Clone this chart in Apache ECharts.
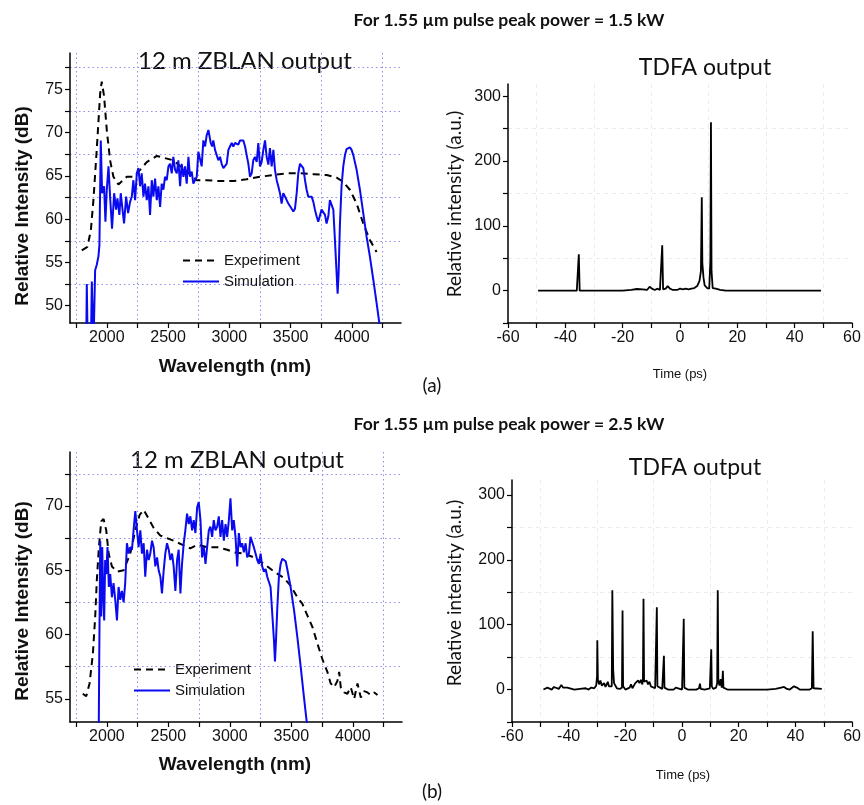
<!DOCTYPE html>
<html><head><meta charset="utf-8">
<script src="https://cdn.jsdelivr.net/npm/echarts@6/dist/echarts.min.js"></script>
<style>html,body{margin:0;padding:0;background:#fff}#c{width:864px;height:805px}</style>
</head><body><div id="c"></div>
<script>
// ---------- DATA ----------
// (a) 1.5 kW : 12 m ZBLAN output, wavelength (nm) vs relative intensity (dB)
const expA = [[1796,56.4],[1842,56.8],[1870,58.7],[1891,62.2],[1918,68.0],[1946,74.5],[1959,75.9],[1978,74.2],[2000,70.3],[2027,66.8],[2054,64.9],[2095,64.0],[2163,64.9],[2217,64.9],[2272,65.7],[2326,66.6],[2408,67.3],[2462,67.1],[2543,66.8],[2652,65.5],[2734,64.5],[2815,64.5],[2924,64.4],[3033,64.4],[3141,64.6],[3250,64.9],[3359,65.1],[3467,65.3],[3576,65.3],[3685,65.2],[3793,65.1],[3875,64.8],[3929,64.3],[3983,63.4],[4038,61.8],[4092,59.5],[4146,57.6],[4201,56.2]];
const simA = [[1832,45],[1837,52.5],[1845,45],[1870,45],[1878,52.8],[1891,45],[1905,54.1],[1918,54.7],[1932,55.7],[1940,57.0],[1951,69.1],[1962,63.0],[1978,63.8],[1989,59.7],[2000,63.4],[2014,66.1],[2027,62.6],[2043,58.9],[2060,63.0],[2076,61.1],[2087,62.4],[2103,60.5],[2114,63.0],[2130,60.9],[2141,59.5],[2158,62.6],[2174,60.7],[2190,62.0],[2204,62.6],[2217,64.5],[2231,62.2],[2245,65.3],[2258,65.9],[2272,63.8],[2285,65.3],[2299,62.6],[2312,64.1],[2326,62.2],[2340,63.8],[2353,60.5],[2367,64.5],[2380,62.6],[2394,64.7],[2408,62.2],[2421,63.8],[2435,61.4],[2448,64.1],[2462,63.4],[2475,64.9],[2489,64.5],[2503,66.1],[2516,66.4],[2530,65.3],[2543,67.2],[2557,65.7],[2571,65.3],[2584,66.8],[2598,63.8],[2611,66.4],[2625,64.9],[2638,66.1],[2652,64.1],[2666,67.2],[2679,64.9],[2693,65.5],[2706,64.1],[2720,64.3],[2734,64.9],[2747,67.8],[2761,68.0],[2774,66.1],[2788,69.1],[2802,68.4],[2815,69.7],[2829,70.3],[2837,70.5],[2848,68.8],[2859,68.4],[2869,69.1],[2883,68.0],[2897,68.0],[2910,66.8],[2924,67.2],[2937,66.4],[2951,65.9],[2965,66.1],[2978,66.4],[2992,68.0],[3005,68.4],[3019,68.8],[3032,68.4],[3046,68.8],[3060,69.0],[3073,68.6],[3087,69.1],[3100,69.3],[3114,69.1],[3128,68.4],[3141,67.4],[3155,66.4],[3168,64.9],[3182,65.3],[3195,66.8],[3209,67.2],[3223,66.6],[3236,68.8],[3250,66.1],[3263,66.6],[3277,68.0],[3291,69.1],[3304,67.2],[3318,66.3],[3331,68.2],[3345,66.1],[3359,68.0],[3372,65.7],[3386,64.5],[3399,63.8],[3413,63.0],[3426,61.8],[3440,63.0],[3454,62.6],[3467,62.6],[3481,61.8],[3494,61.6],[3508,61.2],[3522,60.9],[3535,61.2],[3549,63.0],[3562,65.3],[3576,66.4],[3589,66.4],[3603,65.9],[3617,64.5],[3630,63.4],[3644,62.6],[3657,62.8],[3671,62.6],[3685,62.0],[3698,61.1],[3712,60.3],[3725,59.7],[3739,59.9],[3752,61.1],[3766,61.2],[3780,60.5],[3793,59.5],[3807,60.3],[3820,62.2],[3834,62.4],[3848,61.1],[3861,57.6],[3875,53.7],[3883,51.4],[3891,53.7],[3902,59.5],[3915,63.8],[3929,66.1],[3943,67.4],[3956,68.1],[3970,68.3],[3983,68.3],[3997,68.0],[4011,67.4],[4038,65.7],[4065,63.4],[4092,60.7],[4119,58.0],[4146,55.7],[4174,53.0],[4201,50.3],[4228,47.5]];
// (a) TDFA output, time (ps) vs relative intensity (a.u.)
const tdfaA = [[-49.5,0],[-36,0],[-35.5,0],[-35.3,56],[-35.0,0],[-20,0],[-17,1],[-15,2.5],[-13,2],[-11.5,1],[-10.6,6],[-9.8,3],[-8.8,1],[-7.8,3],[-7,1],[-6.4,2],[-6.2,70],[-5.9,2],[-5,3],[-4.3,7],[-3.5,3],[-2.5,1],[-1,1],[0,3],[1,2],[2,3],[3,2],[4,3],[5,4],[6,7],[6.8,15],[7.3,30],[7.6,144],[7.8,42],[8.2,20],[8.6,8],[9.5,4],[10.2,3],[10.6,47],[10.8,260],[11.0,30],[11.4,4],[12.5,3],[14,1],[16,0],[20,0],[49.2,0]];
// (b) 2.5 kW : 12 m ZBLAN output
const expB = [[1804,55.4],[1832,55.2],[1859,56.2],[1886,58.5],[1905,61.4],[1918,64.2],[1935,66.8],[1954,68.8],[1973,69.0],[1995,68.1],[2014,66.3],[2041,65.3],[2082,64.9],[2136,65.0],[2190,66.3],[2231,68.1],[2266,69.3],[2299,69.7],[2340,69.0],[2380,68.3],[2435,67.7],[2489,67.5],[2543,67.3],[2611,67.0],[2679,66.7],[2734,67.0],[2815,66.8],[2897,66.8],[2978,66.6],[3032,66.4],[3114,66.3],[3195,66.0],[3277,65.5],[3359,64.9],[3440,64.4],[3494,63.8],[3549,62.9],[3589,62.4],[3630,61.5],[3671,60.6],[3712,59.3],[3752,58.1],[3793,57.1],[3820,56.2],[3848,55.9],[3875,56.4],[3889,57.1],[3902,55.9],[3929,55.5],[3956,55.4],[3983,55.9],[4011,55.0],[4038,56.2],[4065,55.1],[4092,55.6],[4119,55.5],[4146,55.3],[4174,55.5],[4201,55.3]];
const simB = [[1932,50],[1938,58.5],[1946,67.3],[1954,61.4],[1962,66.8],[1970,63.2],[1978,61.1],[1986,65.8],[1995,64.7],[2005,66.8],[2016,63.7],[2027,64.7],[2041,62.9],[2054,64.0],[2068,62.7],[2082,61.1],[2095,63.7],[2109,62.7],[2122,63.4],[2136,62.5],[2149,64.0],[2163,67.1],[2177,66.3],[2190,66.8],[2204,66.6],[2217,68.1],[2231,69.6],[2245,68.1],[2258,66.8],[2272,68.1],[2285,66.3],[2299,67.1],[2312,64.5],[2326,66.6],[2340,65.8],[2353,66.3],[2367,67.3],[2380,66.8],[2394,65.3],[2408,66.0],[2421,65.0],[2435,64.5],[2448,63.2],[2462,65.0],[2475,66.3],[2489,67.1],[2503,66.6],[2516,65.8],[2530,66.3],[2543,65.3],[2557,63.4],[2571,65.8],[2584,66.6],[2598,63.2],[2611,65.5],[2625,67.1],[2638,68.1],[2652,69.4],[2666,68.6],[2679,69.2],[2693,68.1],[2706,68.9],[2720,67.9],[2734,69.9],[2747,70.3],[2761,68.9],[2774,66.0],[2788,66.8],[2802,65.5],[2815,66.8],[2829,68.1],[2842,68.4],[2856,67.6],[2869,68.9],[2883,68.1],[2897,68.4],[2910,69.2],[2924,67.6],[2937,68.9],[2951,67.3],[2965,68.6],[2978,67.6],[2992,68.9],[3005,70.6],[3019,68.1],[3032,68.9],[3046,67.6],[3060,65.3],[3073,67.9],[3087,66.8],[3100,67.1],[3114,66.4],[3128,67.1],[3141,66.0],[3155,66.3],[3168,67.6],[3182,67.5],[3195,66.8],[3209,66.3],[3223,65.8],[3236,65.5],[3250,66.3],[3263,65.3],[3277,64.9],[3291,65.1],[3304,64.5],[3318,64.4],[3331,63.7],[3345,61.6],[3359,59.5],[3367,57.9],[3375,59.5],[3386,62.1],[3399,64.5],[3413,65.5],[3426,65.9],[3440,65.9],[3454,65.7],[3467,65.1],[3494,63.7],[3522,61.9],[3549,59.8],[3576,57.5],[3603,55.1],[3630,52.8]];
// (b) TDFA output
const tdfaB = [[-48.9,0],[-47.5,3],[-47,1],[-46,0],[-45.2,4],[-44.5,1],[-43.5,1],[-42.6,7],[-42,3],[-41.3,5],[-40.5,3],[-40,1],[-38,0],[-36,1],[-34,2],[-33,0],[-32,3],[-31,2],[-30.3,6],[-30.0,20],[-29.9,76],[-29.7,15],[-29.3,8],[-28.8,14],[-28.3,6],[-27.5,10],[-27,4],[-26.2,12],[-25.8,5],[-24.8,5],[-24.6,153],[-24.3,30],[-24.0,10],[-23,2],[-22,1],[-21.2,3],[-21.0,122],[-20.8,5],[-20,0],[-18.5,3],[-18,8],[-17.5,2],[-17,6],[-16.5,10],[-16,8],[-15.5,14],[-15,10],[-14.5,15],[-14,8],[-13.8,16],[-13.6,140],[-13.4,12],[-13,10],[-12.5,14],[-12,8],[-11.5,12],[-11,5],[-10.5,3],[-9.5,2],[-9.1,5],[-8.9,127],[-8.7,5],[-8,2],[-7,1],[-6.6,3],[-6.4,52],[-6.2,3],[-5,0],[-3,0],[-2.2,3],[-1.5,1],[0,0],[0.4,3],[0.6,109],[0.8,3],[2,0],[5,0],[6.0,2],[6.3,9],[6.6,1],[8,0],[9.8,2],[10.1,5],[10.3,62],[10.5,5],[11,1],[12,3],[12.4,10],[12.6,153],[12.8,14],[13.2,6],[13.6,16],[14.0,3],[14.2,8],[14.4,29],[14.6,3],[16,0],[30,0],[33,1],[35,3],[36,4],[37,1],[38,0],[39.5,5],[40.5,3],[41.5,0],[45,0],[45.8,2],[46.1,90],[46.4,2],[47,1],[49.3,1]];

// ---------- TICKS ----------
const wlLabels = [2000,2500,3000,3500,4000];
const wlTicks = [1750,2000,2250,2500,2750,3000,3250,3500,3750,4000,4250];
const wlGrid = [1750,2250,2750,3250,3750,4250];
const dbLabelsA = [50,55,60,65,70,75];
const dbTicksA = [50,52.5,55,57.5,60,62.5,65,67.5,70,72.5,75,77.5];
const dbGridA = [52.5,57.5,62.5,67.5,72.5,77.5];
const dbLabelsB = [55,60,65,70];
const dbTicksB = [55,57.5,60,62.5,65,67.5,70,72.5];
const dbGridB = [57.5,62.5,67.5,72.5];
const tLabels = [-60,-40,-20,0,20,40,60];
const tTicks = [-60,-50,-40,-30,-20,-10,0,10,20,30,40,50,60];
const tGrid = [-50,-30,-10,10,30,50];
const auLabels = [0,100,200,300];
const auTicks = [-50,0,50,100,150,200,250,300];
const auGrid = [50,150,250];

// ---------- OPTION ----------
const ARIAL = 'Liberation Sans, Arial, sans-serif';
const CAL = 'Lato, Open Sans, sans-serif';
function mainAxis(dim, gi, min, max, ticks, labels) {
  return {
    type:'value', gridIndex:gi, min, max, position: dim==='x'?'bottom':'left',
    axisLine:{show:true,onZero:false,lineStyle:{color:'#000',width:1.5}},
    axisTick:{show:true,inside:false,length:5,customValues:ticks,lineStyle:{color:'#000',width:1.2}},
    axisLabel:{show:true,customValues:labels,formatter:v=>String(v),color:'#111',fontFamily:ARIAL,fontSize:16,margin:7},
    splitLine:{show:false}
  };
}
function helperAxis(dim, gi, min, max, splits, color, type) {
  return {
    type:'value', gridIndex:gi, min, max, position: dim==='x'?'top':'right',
    axisLine:{show:false}, axisTick:{show:false,customValues:splits},
    axisLabel:{show:false,customValues:splits},
    splitLine:{show:true,lineStyle:{color,type,width:1}}
  };
}
const dotBlue = '#8f8ff0';
const faint = '#ececec';
const xAxis = [
  mainAxis('x',0,1700,4400,wlTicks,wlLabels), helperAxis('x',0,1700,4400,wlGrid,dotBlue,[1.5,3]),
  mainAxis('x',1,-60,60,tTicks,tLabels), helperAxis('x',1,-60,60,tGrid,faint,[4,4]),
  mainAxis('x',2,1700,4400,wlTicks,wlLabels), helperAxis('x',2,1700,4400,wlGrid,dotBlue,[1.5,3]),
  mainAxis('x',3,-60,60,tTicks,tLabels), helperAxis('x',3,-60,60,tGrid,faint,[4,4])
];
const yAxis = [
  mainAxis('y',0,48,79.2,dbTicksA,dbLabelsA), helperAxis('y',0,48,79.2,dbGridA,dotBlue,[1.5,3]),
  mainAxis('y',1,-50,319,auTicks,auLabels), helperAxis('y',1,-50,319,auGrid,faint,[4,4]),
  mainAxis('y',2,53.2,74.2,dbTicksB,dbLabelsB), helperAxis('y',2,53.2,74.2,dbGridB,dotBlue,[1.5,3]),
  mainAxis('y',3,-50,323,auTicks,auLabels), helperAxis('y',3,-50,323,auGrid,faint,[4,4])
];
function expSeries(data, ax){return {name:'Experiment',type:'line',data,xAxisIndex:ax,yAxisIndex:ax,symbol:'none',animation:false,lineStyle:{color:'#000',width:2,type:[7,5]},itemStyle:{color:'#000'},z:3};}
function simSeries(data, ax){return {name:'Simulation',type:'line',data,xAxisIndex:ax,yAxisIndex:ax,symbol:'none',animation:false,lineStyle:{color:'#0a0af0',width:2},itemStyle:{color:'#0a0af0'},z:4};}
function tdfaSeries(data, ax){return {name:'TDFA',type:'line',data,xAxisIndex:ax,yAxisIndex:ax,symbol:'none',animation:false,lineStyle:{color:'#000',width:1.8},itemStyle:{color:'#000'}};}

function txt(x,y,text,size,font,weight,rot){
  return {type:'text',x,y,rotation:rot||0,silent:true,style:{text,fontSize:size,fontFamily:font,fontWeight:weight||'normal',fill:'#111',align:'center',verticalAlign:'middle'}};
}
const legendBase = {data:['Experiment','Simulation'],orient:'vertical',itemWidth:36,itemHeight:14,itemGap:6,padding:0,selectedMode:false,itemStyle:{opacity:0},textStyle:{fontFamily:ARIAL,fontSize:15,color:'#111'}};
const option = {
  backgroundColor:'#fff',
  animation:false,
  grid:[
    {left:70,top:53,width:331,height:270},
    {left:508,top:84,width:344,height:239},
    {left:70,top:452,width:332,height:270},
    {left:512,top:480,width:342,height:242}
  ],
  xAxis, yAxis,
  legend:[
    Object.assign({left:182,top:253}, legendBase),
    Object.assign({left:133,top:662}, legendBase)
  ],
  series:[
    expSeries(expA,0), simSeries(simA,0), tdfaSeries(tdfaA,2),
    expSeries(expB,4), simSeries(simB,4), tdfaSeries(tdfaB,6)
  ],
  graphic:[
    txt(509,20,'For 1.55 µm pulse peak power = 1.5 kW',17.5,CAL,'bold'),
    txt(245,61,'12 m ZBLAN output',24,CAL),
    txt(705,68,'TDFA output',23,CAL),
    txt(432,386,'(a)',19,CAL),
    txt(509,424,'For 1.55 µm pulse peak power = 2.5 kW',17.5,CAL,'bold'),
    txt(237,460,'12 m ZBLAN output',24,CAL),
    txt(695,468,'TDFA output',23,CAL),
    txt(432,792,'(b)',19,CAL),
    txt(23,206,'Relative Intensity (dB)',19,ARIAL,'bold',Math.PI/2),
    txt(23,601,'Relative Intensity (dB)',19,ARIAL,'bold',Math.PI/2),
    txt(455,204,'Relative intensity (a.u.)',19,CAL,'normal',Math.PI/2),
    txt(455,593,'Relative intensity (a.u.)',19,CAL,'normal',Math.PI/2),
    txt(235,367,'Wavelength (nm)',19,ARIAL,'bold'),
    txt(235,765,'Wavelength (nm)',19,ARIAL,'bold'),
    txt(680,374,'Time (ps)',13,ARIAL),
    txt(683,775,'Time (ps)',13,ARIAL)
  ]
};
const chart = echarts.init(document.getElementById('c'), null, {renderer:'canvas'});
chart.setOption(option);
</script></body></html>
